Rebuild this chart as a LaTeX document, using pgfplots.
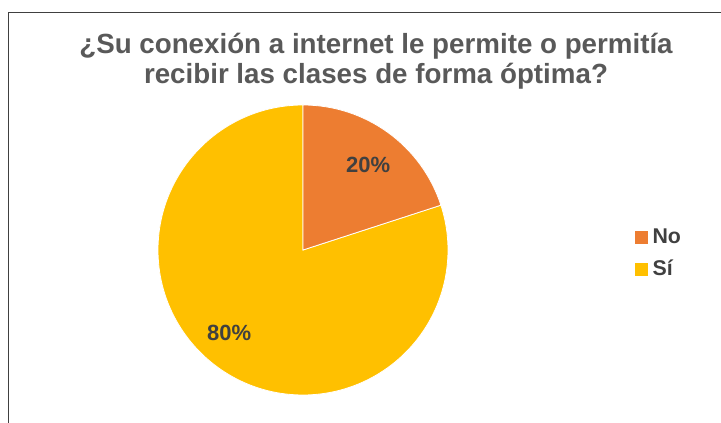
\documentclass[border=0pt]{standalone}
\usepackage{pgfplots}
\pgfplotsset{compat=1.18}
\usepackage{pgfplotstable}
\usepackage{fontspec}
\setmainfont{Liberation Sans}
\definecolor{cNo}{HTML}{ED7D31}
\definecolor{cSi}{HTML}{FFC000}
\definecolor{ctitle}{HTML}{595959}
\definecolor{clab}{HTML}{404040}
\pgfplotstableread{
label value
No 20
Si 80
}\piedata
\pgfplotstablegetelem{0}{value}\of\piedata
\let\vNo\pgfplotsretval
\pgfplotstablegetelem{1}{value}\of\piedata
\let\vSi\pgfplotsretval
\begin{document}
\begin{tikzpicture}[x=0.75pt,y=0.75pt]
\useasboundingbox (0,0) rectangle (721,423);
\draw[black!75, line width=0.75pt] (8,0) -- (8,410) -- (721,410);
\node[font=\bfseries\fontsize{20.8}{22.8}\selectfont, text=ctitle, align=center] at (376,362) {¿Su conexión a internet le permite o permitía\\recibir las clases de forma óptima?};
\begin{axis}[at={(227.25pt,129.75pt)}, anchor=origin, scale only axis,
  width=217.5pt, height=217.5pt, hide axis,
  xmin=-1, xmax=1, ymin=-1, ymax=1, clip=false,
  legend style={at={(rel axis cs:1.645,0.49)}, anchor=west, draw=none, fill=none,
    font=\bfseries\fontsize{16}{18}\selectfont, text=clab, row sep=7pt,
    inner xsep=0pt, legend cell align=left,
    nodes={inner xsep=3.5pt}},
  legend image code/.code={\fill[#1] (0pt,-5pt) rectangle (9pt,4pt);}]
\addlegendimage{cNo}
\addlegendentry{No}
\addlegendimage{cSi}
\addlegendentry{Sí}
\fill[cSi, draw=white, line width=0.6pt] (axis cs:0,0) -- (axis cs:0,1)
  arc[start angle=90, end angle={90+\vSi*3.6}, radius=108.75pt] -- cycle;
\fill[cNo, draw=white, line width=0.6pt] (axis cs:0,0) -- (axis cs:0,1)
  arc[start angle=90, end angle={90-\vNo*3.6}, radius=108.75pt] -- cycle;
\node[font=\bfseries\fontsize{16.5}{18}\selectfont, text=clab] at (axis cs:0.45,0.59) {\vNo\%};
\node[font=\bfseries\fontsize{16.5}{18}\selectfont, text=clab] at (axis cs:-0.51,-0.57) {\vSi\%};
\end{axis}
\end{tikzpicture}
\end{document}
